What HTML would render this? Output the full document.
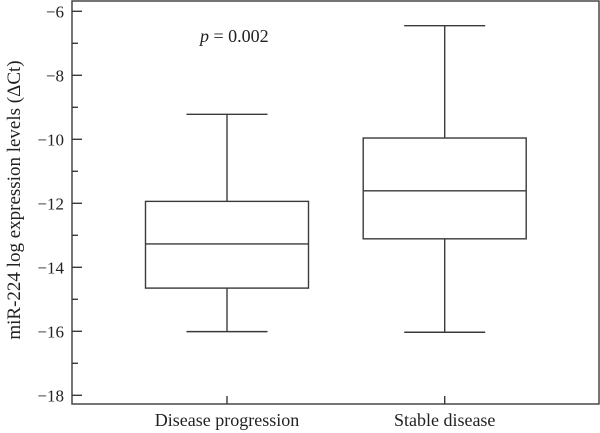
<!DOCTYPE html>
<html><head><meta charset="utf-8"><style>
html,body{margin:0;padding:0;background:#fff;}
svg{display:block;font-family:"Liberation Serif",serif;}
</style></head><body>
<svg width="600" height="433" viewBox="0 0 600 433">
<g id="g"></g>
</svg>
<script>
const categories=["Disease progression","Stable disease"];
const whiskerLow=[-16.01,-16.03];
const q1=[-14.65,-13.11];
const medians=[-13.27,-11.61];
const q3=[-11.94,-9.96];
const whiskerHigh=[-9.22,-6.45];
const yTicks=[-6,-8,-10,-12,-14,-16,-18];
const yMinor=[-7,-9,-11,-13,-15,-17];
const NS="http://www.w3.org/2000/svg";
const g=document.getElementById('g');
const L=72,R=599,T=1,B=404;
const y=v=>11.3+(-6-v)*32;
const cx=[227,444.7];
const halfBox=81.5, halfCap=40.5;
function mk(t,a,name){const e=document.createElementNS(NS,t);for(const k in a)e.setAttribute(k,a[k]);


g.appendChild(e);return e;}
const st={stroke:'#3a3a3a','stroke-width':1.4,fill:'none'};
mk('rect',Object.assign({x:L,y:T,width:R-L,height:B-T},st),'plot-frame');
yTicks.forEach(v=>{mk('line',Object.assign({x1:L,x2:L+10,y1:y(v),y2:y(v)},st),'y-tick');
const t=mk('text',{x:64,y:y(v)+6,'text-anchor':'end','font-size':17,fill:'#222'},'y-tick-label');t.textContent=v<0?'\u2212'+Math.abs(v):v;});
yMinor.forEach(v=>mk('line',Object.assign({x1:L,x2:L+6,y1:y(v),y2:y(v)},st),'y-minor-tick'));
categories.forEach((c,i)=>{const x=cx[i];
mk('line',Object.assign({x1:x,x2:x,y1:B,y2:B-8},st),'x-tick');
const t=mk('text',{x:x,y:426,'text-anchor':'middle','font-size':18,fill:'#222'},'x-tick-label');t.textContent=c;
mk('line',Object.assign({x1:x,x2:x,y1:y(whiskerHigh[i]),y2:y(q3[i])},st),'upper-whisker');
mk('line',Object.assign({x1:x,x2:x,y1:y(q1[i]),y2:y(whiskerLow[i])},st),'lower-whisker');
mk('line',Object.assign({x1:x-halfCap,x2:x+halfCap,y1:y(whiskerHigh[i]),y2:y(whiskerHigh[i])},st),'max-cap');
mk('line',Object.assign({x1:x-halfCap,x2:x+halfCap,y1:y(whiskerLow[i]),y2:y(whiskerLow[i])},st),'min-cap');
mk('rect',Object.assign({x:x-halfBox,y:y(q3[i]),width:2*halfBox,height:y(q1[i])-y(q3[i])},st),'iqr-box');
mk('line',Object.assign({x1:x-halfBox,x2:x+halfBox,y1:y(medians[i]),y2:y(medians[i])},st),'median-line');
});
const p=mk('text',{x:200,y:42,'font-size':18,fill:'#222'},'p-value-annotation');
p.innerHTML='<tspan font-style="italic">p</tspan> = 0.002';
const yt=mk('text',{x:0,y:0,'font-size':19,fill:'#222','text-anchor':'middle',transform:'translate(20,200) rotate(-90)'},'y-axis-title');
yt.textContent='miR-224 log expression levels (\u0394Ct)';
</script>
</body></html>
